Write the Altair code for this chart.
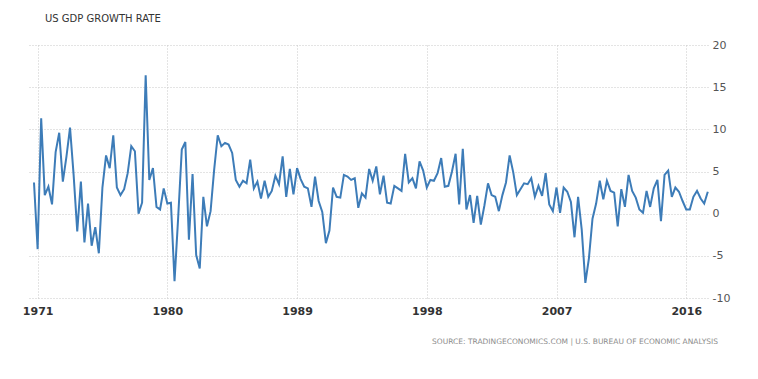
import altair as alt
import pandas as pd

start_quarter = "1970-09-30"  # first observation: 1970 Q3 (quarter-end dates)

growth = [
    3.7, -4.2,
    11.3, 2.2, 3.2, 1.1,
    7.3, 9.6, 3.8, 6.8,
    10.2, 4.6, -2.1, 3.8,
    -3.4, 1.2, -3.8, -1.6,
    -4.7, 3.1, 6.9, 5.4,
    9.3, 3.1, 2.2, 2.9,
    4.8, 8.0, 7.4, 0.0,
    1.3, 16.4, 4.0, 5.4,
    0.8, 0.5, 3.0, 1.2,
    1.3, -8.0, -0.5, 7.6,
    8.5, -3.1, 4.7, -4.9,
    -6.5, 2.0, -1.5, 0.3,
    5.2, 9.3, 8.0, 8.4,
    8.2, 7.2, 4.0, 3.2,
    3.9, 3.6, 6.4, 3.0,
    3.8, 1.8, 3.9, 2.0,
    2.7, 4.5, 3.5, 6.8,
    2.0, 5.3, 2.3, 5.4,
    4.1, 3.2, 3.0, 0.8,
    4.4, 1.5, 0.2, -3.5,
    -2.0, 3.1, 2.0, 1.9,
    4.6, 4.4, 4.0, 4.2,
    0.7, 2.4, 1.9, 5.3,
    3.9, 5.6, 2.3, 4.5,
    1.3, 1.2, 3.3, 3.0,
    2.7, 7.1, 3.7, 4.2,
    3.0, 6.2, 5.1, 3.1,
    4.0, 3.9, 4.8, 6.6,
    3.2, 3.3, 5.0, 7.1,
    1.1, 7.7, 0.5, 2.2,
    -1.1, 2.1, -1.3, 1.0,
    3.6, 2.2, 2.0, 0.3,
    2.2, 3.7, 6.9, 4.9,
    2.2, 2.9, 3.6, 3.5,
    4.2, 2.0, 3.3, 2.1,
    4.8, 1.1, 0.3, 3.1,
    0.1, 3.1, 2.6, 1.4,
    -2.8, 2.0, -1.9, -8.2,
    -5.3, -0.6, 1.2, 3.9,
    1.7, 3.9, 2.7, 2.5,
    -1.5, 2.9, 0.8, 4.6,
    2.7, 1.9, 0.5, 0.1,
    2.7, 0.8, 3.0, 4.0,
    -0.9, 4.6, 5.1, 2.0,
    3.1, 2.6, 1.5, 0.5,
    0.5, 2.0, 2.7, 1.8,
    1.2, 2.6,
]

tick_years = [1971, 1980, 1989, 1998, 2007, 2016]
y_ticks = [-10, -5, 0, 5, 10, 15, 20]

title_text = "US GDP GROWTH RATE"
source_text = "SOURCE: TRADINGECONOMICS.COM | U.S. BUREAU OF ECONOMIC ANALYSIS"

dates = pd.date_range(start=start_quarter, periods=len(growth), freq="QE")
df = pd.DataFrame({"date": dates, "value": growth})

FONT = "DejaVu Sans"
LINE_COLOR = "#3d7cb8"
GRID = "#c8c8c8"

x_enc = alt.X(
    "date:T",
    scale=alt.Scale(domain=[alt.DateTime(year=1970, month=5, date=1),
                            alt.DateTime(year=2017, month=7, date=5)]),
    axis=alt.Axis(
        values=[alt.DateTime(year=y, month=1, date=1) for y in tick_years],
        format="%Y",
        title=None,
        grid=True,
        gridColor=GRID,
        gridDash=[1, 2],
        domain=False,
        ticks=False,
        labelPadding=7,
        labelFont=FONT,
        labelFontSize=11,
        labelFontWeight="bold",
        labelColor="#333333",
    ),
)

y_enc = alt.Y(
    "value:Q",
    scale=alt.Scale(domain=[-10, 20], nice=False, zero=False),
    axis=alt.Axis(
        orient="right",
        values=y_ticks,
        labelExpr="'' + datum.value",
        title=None,
        grid=True,
        gridColor=GRID,
        gridDash=[1, 2],
        domain=False,
        ticks=False,
        labelPadding=4,
        labelFont=FONT,
        labelFontSize=11,
        labelColor="#555555",
    ),
)

line = alt.Chart(df).mark_line(color=LINE_COLOR, strokeWidth=2).encode(x=x_enc, y=y_enc)

title = alt.Chart(pd.DataFrame({"t": [title_text]})).mark_text(
    align="left", baseline="middle", font=FONT, fontSize=10, color="#333333"
).encode(text="t:N", x=alt.value(17), y=alt.value(-26))

source = alt.Chart(pd.DataFrame({"t": [source_text]})).mark_text(
    align="right", baseline="middle", font=FONT, fontSize=7.5, color="#8c8c8c"
).encode(text="t:N", x=alt.value(690), y=alt.value(297))

chart = alt.layer(line, title, source).properties(
    width=680,
    height=253,
    autosize=alt.AutoSizeParams(type="none"),
    padding={"left": 20, "top": 37, "right": 34, "bottom": 60},
).configure_view(stroke=None)

chart.save("out.html", embed_options={"renderer": "svg", "actions": False})
